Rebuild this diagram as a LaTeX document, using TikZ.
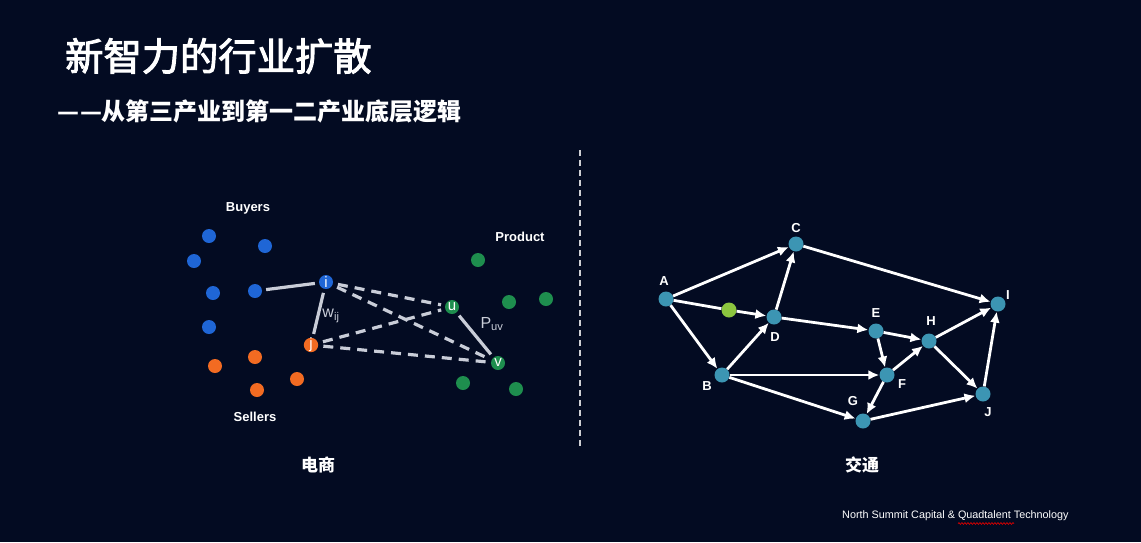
\documentclass[tikz,border=0pt]{standalone}
\usepackage{fontspec}
\setmainfont{Liberation Sans}
\newfontfamily\cjk{Noto Sans CJK SC}
\newfontfamily\cjkt{Noto Sans CJK SC}[FakeBold=2.5]
\usetikzlibrary{arrows.meta,decorations.pathmorphing}
\definecolor{bg}{HTML}{030B22}
\definecolor{buyer}{HTML}{1F66D6}
\definecolor{seller}{HTML}{F26B22}
\definecolor{prod}{HTML}{1E8E4E}
\definecolor{edgegray}{HTML}{C9CDD8}
\definecolor{teal}{HTML}{3C95B3}
\definecolor{lgreen}{HTML}{8CC63F}
\tikzset{
  dot/.style={circle,minimum size=14pt,inner sep=0pt,fill=#1,text=white,font=\fontsize{15}{15}\selectfont},
  gnode/.style={circle,minimum size=15pt,inner sep=0pt,fill=teal},
  glabel/.style={text=white,font=\bfseries\fontsize{13}{14}\selectfont},
  grouplabel/.style={text=white,font=\bfseries\fontsize{13}{14}\selectfont},
  solidedge/.style={draw=edgegray,line width=3.2pt,shorten <=4pt,shorten >=4pt},
  dashedge/.style={draw=edgegray,line width=3.2pt,dash pattern=on 10pt off 7pt,shorten <=5pt,shorten >=4pt},
  arr/.style={draw=white,line width=2.8pt,-{Latex[length=11pt,width=10pt]}},
  edgelabel/.style={text=edgegray,font=\fontsize{16}{16}\selectfont},
}
\begin{document}
\begin{tikzpicture}[x=1pt,y=-1pt]
\useasboundingbox[fill=bg] (0,0) rectangle (1141,542);

% titles
\node[anchor=west,text=white,inner sep=0pt] (title) at (65,56) {\cjkt\fontsize{38.3}{40}\selectfont 新智力的行业扩散};
\node[anchor=west,text=white,inner sep=0pt] (subtitle) at (57,111) {\cjk\bfseries\fontsize{24}{26}\selectfont —\kern1.5pt—\kern-1.5pt 从第三产业到第一二产业底层逻辑};

% separator
\coordinate (sepTop) at (580,150);
\coordinate (sepBot) at (580,446);
\draw[draw=white!80!bg,line width=2pt,dash pattern=on 6pt off 4pt] (sepTop) -- (sepBot);

% ---------- left: e-commerce ----------
\node[grouplabel] (buyers) at (248,208) {Buyers};
\node[grouplabel] (product) at (520,237) {Product};
\node[grouplabel] (sellers) at (255,417) {Sellers};

\node[dot=buyer] (b1) at (209,236) {};
\node[dot=buyer] (b2) at (265,246) {};
\node[dot=buyer] (b3) at (194,261) {};
\node[dot=buyer] (b4) at (213,293) {};
\node[dot=buyer] (b5) at (255,291) {};
\node[dot=buyer] (b6) at (209,327) {};
\node[dot=buyer] (i) at (326,282) {i};

\node[dot=seller] (s1) at (215,366) {};
\node[dot=seller] (s2) at (255,357) {};
\node[dot=seller] (s3) at (257,390) {};
\node[dot=seller] (s4) at (297,379) {};
\node[dot=seller] (j) at (311,345) {j};

\node[dot=prod] (p1) at (478,260) {};
\node[dot=prod] (p2) at (509,302) {};
\node[dot=prod] (p3) at (546,299) {};
\node[dot=prod] (p4) at (463,383) {};
\node[dot=prod] (p5) at (516,389) {};
\node[dot=prod] (u) at (452,307) {u};
\node[dot=prod] (v) at (498,363) {v};

\path[solidedge] (b5) -- (i);
\path[solidedge] (i) -- (j);
\path[solidedge] (u) -- (v);
\path[dashedge] (i) -- (u);
\path[dashedge] (i) -- (v);
\path[dashedge] (j) -- (u);
\path[dashedge] (j) -- (v);

\node[edgelabel] (wij) at (331,316) {w\textsubscript{ij}};
\node[edgelabel] (puv) at (492,324) {P\textsubscript{uv}};

\node[text=white,font=\cjk\bfseries\fontsize{17}{18}\selectfont] (ds) at (318,465) {电商};

% ---------- right: traffic ----------
\node[gnode] (A) at (666,299) {};
\node[gnode] (C) at (796,244) {};
\node[gnode] (B) at (722,375) {};
\node[gnode] (D) at (774,317) {};
\node[circle,minimum size=15pt,inner sep=0pt,fill=lgreen] (M) at (729,310) {};
\node[gnode] (E) at (876,331) {};
\node[gnode] (H) at (929,341) {};
\node[gnode] (F) at (887,375) {};
\node[gnode] (G) at (863,421) {};
\node[gnode] (J) at (983,394) {};
\node[gnode] (I) at (998,304) {};

\node[glabel] (lA) at (664,281) {A};
\node[glabel] (lC) at (796,228) {C};
\node[glabel] (lB) at (707,386) {B};
\node[glabel] (lD) at (775,337) {D};
\node[glabel] (lE) at (876,313) {E};
\node[glabel] (lH) at (931,321) {H};
\node[glabel] (lF) at (902,384) {F};
\node[glabel] (lG) at (853,401) {G};
\node[glabel] (lJ) at (988,412) {J};
\node[glabel] (lI) at (1008,295) {I};

\draw[arr] (A) -- (C);
\draw[arr] (A) -- (B);
\draw[draw=white,line width=2.8pt] (A) -- (M);
\draw[arr] (M) -- (D);
\draw[arr] (D) -- (C);
\draw[arr] (B) -- (D);
\draw[arr] (D) -- (E);
\draw[arr] (E) -- (H);
\draw[arr] (E) -- (F);
\draw[arr] (B) -- (F);
\draw[arr] (B) -- (G);
\draw[arr] (F) -- (H);
\draw[arr] (F) -- (G);
\draw[arr] (H) -- (I);
\draw[arr] (H) -- (J);
\draw[arr] (C) -- (I);
\draw[arr] (G) -- (J);
\draw[arr] (J) -- (I);

\node[text=white,font=\cjk\bfseries\fontsize{17}{18}\selectfont] (jt) at (862,465) {交通};

% footer
\node[anchor=west,text=white,inner sep=0pt,font=\fontsize{10.8}{12}\selectfont] (footer) at (842,516) {North Summit Capital \& Quadtalent Technology};
\coordinate (wavyA) at (958,523.5);
\coordinate (wavyB) at (1014,523.5);
\draw[red!85!black,line width=0.7pt,decorate,decoration={snake,segment length=3pt,amplitude=0.9pt}] (wavyA) -- (wavyB);
\end{tikzpicture}
\end{document}
